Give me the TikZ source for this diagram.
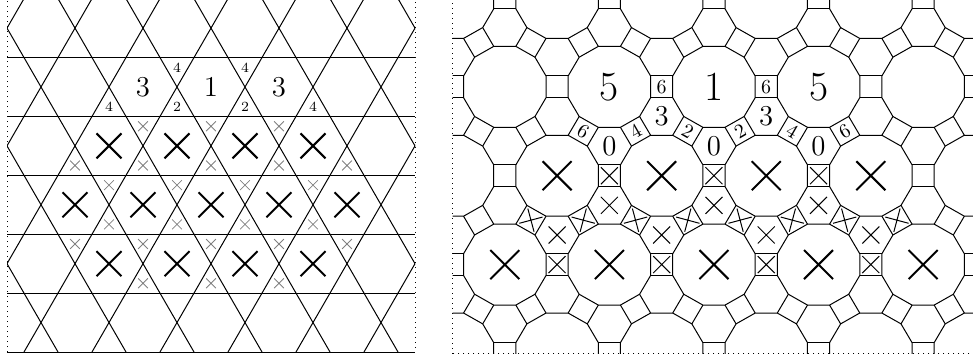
\documentclass[tikz,border=0pt]{standalone}
\usetikzlibrary{shapes.misc}

\def\dhalf{2.36603}
\def\drow{4.09808}
\def\dR{1.93185}

\tikzset{
  edge/.style={line width=0.5pt},
  frame/.style={dotted, line width=0.5pt},
  bigx/.style={cross out, draw, line width=1pt, inner sep=0pt, minimum size=11.5pt},
  hugex/.style={cross out, draw, line width=1pt, inner sep=0pt, minimum size=13.5pt},
  tinyx/.style={cross out, draw=black!50, line width=0.4pt, inner sep=0pt, minimum size=4.5pt},
  smallx/.style={cross out, draw, line width=0.5pt, inner sep=0pt, minimum size=8pt},
  bignum/.style={font=\Large, inner sep=0pt},
  tinynum/.style={font=\scriptsize, inner sep=0pt},
  hugenum/.style={font=\huge, inner sep=0pt},
  hexnum/.style={font=\Large, inner sep=0pt},
  sqnum/.style={font=\normalsize, inner sep=0pt},
  dodeca/.pic={
    \draw[edge] (15:\dR) \foreach \t in {45,75,...,345} { -- (\t:\dR) } -- cycle;
    \foreach \t in {0,60,120} {
      \draw[edge] (\t+15:\dR) -- ++(\t:1);
      \draw[edge] (\t-15:\dR) -- ++(\t:1);
    }
  }
}

\begin{document}
\begin{tikzpicture}[x=0.5pt, y=0.5pt]
  \useasboundingbox (0,0) rectangle (973,360);

  % kagome lattice
  \begin{scope}[shift={(7,8)}, scale=34]
    \begin{scope}
      \clip (0,0) rectangle (12,{6*sqrt(3)});
      \foreach \r in {0,...,6}
        \draw[edge] (0,{\r*sqrt(3)}) -- (12,{\r*sqrt(3)});
      \foreach \m in {-3,...,5}
        \draw[edge] ({2*\m+0.5},0) -- ++(60:13);
      \foreach \m in {0,...,8}
        \draw[edge] ({2*\m+1.5},0) -- ++(120:13);
    \end{scope}
    \draw[frame] (0,0) rectangle (12,{6*sqrt(3)});

    \node[bignum] (k3l) at (4,{4.5*sqrt(3)}) {3};
    \node[bignum] (k1) at (6,{4.5*sqrt(3)}) {1};
    \node[bignum] (k3r) at (8,{4.5*sqrt(3)}) {3};
    \node[tinynum] (up5) at (5,{(5-1/6)*sqrt(3)}) {4};
    \node[tinynum] (up7) at (7,{(5-1/6)*sqrt(3)}) {4};
    \node[tinynum] (dn3) at (3,{(4+1/6)*sqrt(3)}) {4};
    \node[tinynum] (dn5) at (5,{(4+1/6)*sqrt(3)}) {2};
    \node[tinynum] (dn7) at (7,{(4+1/6)*sqrt(3)}) {2};
    \node[tinynum] (dn9) at (9,{(4+1/6)*sqrt(3)}) {4};

    \foreach \x in {3,5,7,9} {
      \node[bigx] (kxa\x) at (\x,{3.5*sqrt(3)}) {};
      \node[bigx] (kxc\x) at (\x,{1.5*sqrt(3)}) {};
      \node[tinyx] (tb\x) at (\x,{(3-1/6)*sqrt(3)}) {};
      \node[tinyx] (tc\x) at (\x,{(2+1/6)*sqrt(3)}) {};
    }
    \foreach \x in {2,4,...,10} {
      \node[bigx] (kxb\x) at (\x,{2.5*sqrt(3)}) {};
      \node[tinyx] (ta\x) at (\x,{(3+1/6)*sqrt(3)}) {};
      \node[tinyx] (td\x) at (\x,{(2-1/6)*sqrt(3)}) {};
    }
    \foreach \x in {4,6,8} {
      \node[tinyx] (tt\x) at (\x,{(4-1/6)*sqrt(3)}) {};
      \node[tinyx] (te\x) at (\x,{(1+1/6)*sqrt(3)}) {};
    }
  \end{scope}

  % 4.6.12 tiling
  \begin{scope}[shift={(452.5,6.5)}, xscale=22.1, yscale=21.69]
    \begin{scope}
      \clip (0,0) rectangle ({10*\dhalf},{4*\drow});
      \foreach \j in {0,2,4} \foreach \k in {0,2,...,10}
        \pic[transform shape] at ({\k*\dhalf},{\j*\drow}) {dodeca};
      \foreach \j in {1,3} \foreach \k in {-1,1,...,11}
        \pic[transform shape] at ({\k*\dhalf},{\j*\drow}) {dodeca};
    \end{scope}
    \draw[frame] (0,0) rectangle ({10*\dhalf},{4*\drow});

    \node[hugenum] (c5l) at ({3*\dhalf},{3*\drow}) {5};
    \node[hugenum] (c1) at ({5*\dhalf},{3*\drow}) {1};
    \node[hugenum] (c5r) at ({7*\dhalf},{3*\drow}) {5};
    \node[sqnum] (s6l) at ({4*\dhalf},{3*\drow}) {6};
    \node[sqnum] (s6r) at ({6*\dhalf},{3*\drow}) {6};
    \node[hexnum] (h3l) at ({4*\dhalf},{8/3*\drow}) {3};
    \node[hexnum] (h3r) at ({6*\dhalf},{8/3*\drow}) {3};
    \foreach \k in {3,5,7}
      \node[hexnum] (h0\k) at ({\k*\dhalf},{7/3*\drow}) {0};
    \foreach \k/\a/\t [count=\n] in {2.5/-30/6, 3.5/30/4, 4.5/-30/2, 5.5/30/2, 6.5/-30/4, 7.5/30/6}
      \node[sqnum, rotate=\a] (q\n) at ({\k*\dhalf},{2.5*\drow}) {\t};

    \foreach \k in {2,4,6,8} {
      \node[hugex] (cxa\k) at ({\k*\dhalf},{2*\drow}) {};
      \node[smallx] (sxb\k) at ({\k*\dhalf},{\drow}) {};
      \node[smallx] (hxb\k) at ({\k*\dhalf},{4/3*\drow}) {};
    }
    \foreach \k in {1,3,...,9}
      \node[hugex] (cxb\k) at ({\k*\dhalf},{\drow}) {};
    \foreach \k in {3,5,7} {
      \node[smallx] (sxa\k) at ({\k*\dhalf},{2*\drow}) {};
      \node[smallx] (hxa\k) at ({\k*\dhalf},{5/3*\drow}) {};
    }
    \foreach \k/\a [count=\n] in {1.5/-30, 2.5/30, 3.5/-30, 4.5/30, 5.5/-30, 6.5/30, 7.5/-30, 8.5/30}
      \node[smallx, rotate=\a] (tx\n) at ({\k*\dhalf},{1.5*\drow}) {};
  \end{scope}
\end{tikzpicture}
\end{document}
